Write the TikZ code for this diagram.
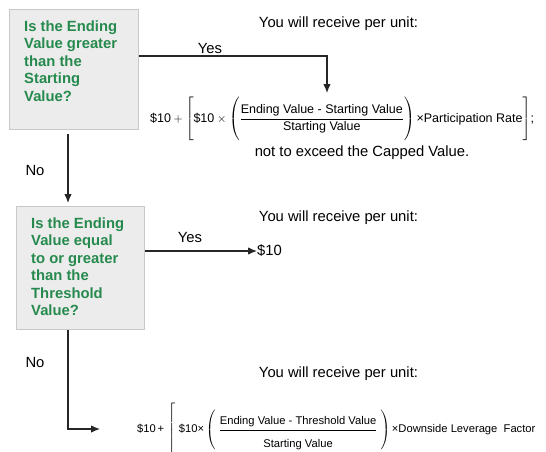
\documentclass[tikz,border=0pt]{standalone}
\usepackage{amsmath}
\usepackage{fontspec}
\setmainfont{Liberation Sans}
\usetikzlibrary{arrows.meta}

\definecolor{qgreen}{RGB}{38,138,78}
\definecolor{qfill}{RGB}{236,236,236}
\definecolor{qline}{RGB}{200,200,200}

\newcommand{\bodyfont}{\fontsize{14.8}{17.5}\selectfont}

\begin{document}
\begin{tikzpicture}[x=1pt, y=-1pt, >={Latex[length=9pt,width=7.5pt]},
    qbox/.style={draw=qline, fill=qfill, line width=1pt, anchor=north west, inner sep=0pt},
    qtext/.style={anchor=north west, inner sep=0pt, align=left, text=qgreen, font=\bodyfont\bfseries},
    lbl/.style={font=\bodyfont, inner sep=0pt},
    formula/.style={inner sep=0pt, anchor=west},
    flow/.style={line width=1.2pt, draw=black!85}]

    \useasboundingbox (0,0) rectangle (546,451);

    % Question boxes
    \node [qbox, minimum width=129pt, minimum height=120pt] (q1) at (9,9) {};
    \node [qtext] (q1text) at (24,20.5) {Is the Ending\\Value greater\\than the\\Starting\\Value?};
    \node [qbox, minimum width=128pt, minimum height=123pt] (q2) at (16,206) {};
    \node [qtext] (q2text) at (31,217.5) {Is the Ending\\Value equal\\to or greater\\than the\\Threshold\\Value?};

    % Outcomes
    \node [lbl] (recv1) at (338.5,24) {You will receive per unit:};
    \node [formula, font=\fontsize{12.5}{15}\selectfont] (f1) at (150,119)
        {$\text{\$10} + \left[\text{\$10}\times\left(\rule[-19pt]{0pt}{44pt}\dfrac{\text{Ending Value - Starting Value}}{\text{Starting Value}}\right)\text{×Participation Rate}\right]$;};
    \node [lbl] (cap) at (362,153) {not to exceed the Capped Value.};

    \node [lbl] (recv2) at (338.5,218) {You will receive per unit:};
    \node [lbl, anchor=west] (ten) at (257,251) {\$10};

    \node [lbl] (recv3) at (338.5,374) {You will receive per unit:};
    \node [formula, font=\fontsize{11.2}{14}\selectfont] (f2) at (137,430)
        {$\text{\$10\,+\,}\left[\rule[-24pt]{0pt}{53pt}\,\,\text{\$10×}\left(\;\dfrac{\text{Ending Value - Threshold Value}\rule[-4pt]{0pt}{4pt}}{\rule{0pt}{16pt}\text{Starting Value}}\;\right)\text{×Downside Leverage\ \ Factor}\right.$};

    % Branch labels
    \node [lbl] (yes1) at (210,48) {Yes};
    \node [lbl] (no1) at (35,170) {No};
    \node [lbl] (yes2) at (190,237) {Yes};
    \node [lbl] (no2) at (35,362) {No};

    % Connectors
    \coordinate (trunk) at (68,0);
    \coordinate (yescorner) at (327,56);
    \coordinate (f1in) at (327,93);
    \coordinate (noturn) at (68,429);
    \coordinate (noend) at (100,429);

    \draw [flow, ->] (q1.east |- yescorner) -- (yescorner) -- (f1in);
    \draw [flow, ->, shorten <=4pt, shorten >=3pt] (q1.south -| trunk) -- (q2.north -| trunk);
    \draw [flow, ->] (q2.east |- ten.west) -- (ten.west);
    \draw [flow, ->] (q2.south -| trunk) -- (noturn) -- (noend);

\end{tikzpicture}
\end{document}
